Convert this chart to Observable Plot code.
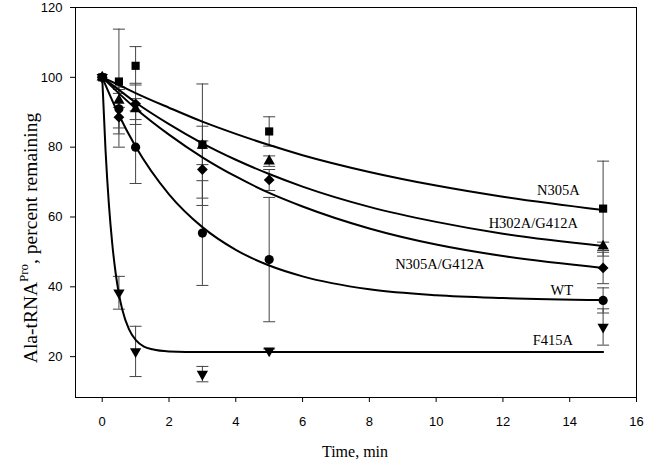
<!DOCTYPE html>
<html><head><meta charset="utf-8">
<script src="https://cdn.jsdelivr.net/npm/d3@7"></script>
<script src="https://cdn.jsdelivr.net/npm/@observablehq/plot@0.6"></script>
<style>body{margin:0;background:#fff} #chart{width:645px;height:465px}</style>
</head><body><div id="chart"></div>
<script>
// Measured points (time in min, percent remaining, error)
const times = [0, 0.5, 1, 3, 5, 15];
const seriesNames = ["N305A", "H302A/G412A", "N305A/G412A", "WT", "F415A"];
const n305aY   = [100, 98.8, 103.3, 80.7, 84.5, 62.4];
const n305aErr = [0, 15, 5.5, 17.4, 4.2, 13.6];
const h302aY   = [100, 93.4, 90.9, 80.5, 76.0, 51.6];
const h302aErr = [0, 2, 3, 5.5, 1.5, 1.2];
const n305gY   = [100, 88.6, 92.4, 73.6, 70.6, 45.4];
const n305gErr = [0, 8.6, 5.9, 8.2, 3.0, 4.5];
const wtY      = [100, 91.0, 80.0, 55.4, 47.8, 36.1];
const wtErr    = [0, 5.5, 10.4, 15.0, 17.8, 3.6];
const f415aY   = [100, 38.3, 21.5, 15.0, 21.7, 28.5];
const f415aErr = [0, 4.7, 7.2, 2.2, 0.5, 5.2];

// Fitted curves
const curveT = [0, 0.5, 1, 2, 3, 4, 5, 6, 8, 10, 12, 15];
const n305aFit = [100, 97.8, 95.5, 91.3, 87.3, 83.8, 80.6, 77.7, 72.9, 69.0, 65.8, 62.0];
const h302aFit = [100, 96.4, 92.8, 86.6, 81.1, 76.4, 72.3, 68.7, 62.9, 58.6, 55.2, 51.7];
const n305gFit = [100, 95.4, 91.1, 83.6, 77.1, 71.6, 66.9, 63.0, 56.7, 52.1, 48.8, 45.4];
const wtFit    = [100, 89.2, 80.2, 66.5, 57.1, 50.6, 46.1, 43.0, 39.3, 37.6, 36.8, 36.2];
const f415aT   = [0, 0.1, 0.2, 0.3, 0.4, 0.5, 0.6, 0.8, 1, 1.25, 1.5, 2, 3, 5, 10, 15];
const f415aFit = [100, 79.0, 63.6, 52.4, 44.1, 38.0, 33.5, 27.9, 24.8, 22.9, 22.1, 21.5, 21.3, 21.3, 21.3, 21.3];

// Curve labels (anchored at their right end)
const labelText = ["N305A", "H302A/G412A", "N305A/G412A", "WT", "F415A"];
const labelX = [14.3, 14.25, 11.45, 14.1, 14.1];
const labelY = [67.5, 58.1, 46.5, 39.1, 24.8];

const xTicks = [0, 2, 4, 6, 8, 10, 12, 14, 16];
const yTicks = [20, 40, 60, 80, 100, 120];

const pts = [
  {y: n305aY, e: n305aErr, symbol: "square", rotate: 0, r: 4.6},
  {y: h302aY, e: h302aErr, symbol: "triangle", rotate: 0, r: 4.2},
  {y: n305gY, e: n305gErr, symbol: "square", rotate: 45, r: 4.3},
  {y: wtY, e: wtErr, symbol: "circle", rotate: 0, r: 4.6},
  {y: f415aY, e: f415aErr, symbol: "triangle", rotate: 180, r: 4.2}
];
const fits = [
  {t: curveT, y: n305aFit}, {t: curveT, y: h302aFit}, {t: curveT, y: n305gFit},
  {t: curveT, y: wtFit}, {t: f415aT, y: f415aFit}
];

const errRows = [];
pts.forEach((s, i) => times.forEach((t, j) => {
  if (s.e[j] > 0) errRows.push({t, lo: s.y[j] - s.e[j], hi: s.y[j] + s.e[j], series: seriesNames[i]});
}));
const capRows = errRows.flatMap(d => [{t: d.t, v: d.lo}, {t: d.t, v: d.hi}]);
const capSymbol = {draw(ctx) { ctx.moveTo(-6, 0); ctx.lineTo(6, 0); }};

const marks = [
  Plot.frame({stroke: "black", strokeWidth: 1}),
  Plot.ruleX(errRows, {x: "t", y1: "lo", y2: "hi", stroke: "#444", strokeWidth: 1}),
  Plot.dot(capRows, {x: "t", y: "v", symbol: capSymbol, stroke: "#444", strokeWidth: 1, fill: "none"}),
  ...fits.map(f => Plot.line(f.t.map((t, k) => ({t, v: f.y[k]})), {x: "t", y: "v", curve: "monotone-x", stroke: "black", strokeWidth: 2})),
  ...pts.map(s => Plot.dot(times.map((t, k) => ({t, v: s.y[k]})), {x: "t", y: "v", symbol: s.symbol, rotate: s.rotate, r: s.r, fill: "black", stroke: "none"})),
  Plot.text(labelText.map((l, k) => ({l, x: labelX[k], y: labelY[k]})), {x: "x", y: "y", text: "l", textAnchor: "end", fontFamily: "Liberation Serif, Times New Roman, serif", fontSize: 14.5, fill: "black"}),
  Plot.axisX({ticks: xTicks, tickSize: 5, tickPadding: 14, label: null, fontSize: 13, fontFamily: "Liberation Sans, Arial, sans-serif"}),
  Plot.axisY({ticks: yTicks, tickSize: 5, tickPadding: 8, label: null, fontSize: 13, fontFamily: "Liberation Sans, Arial, sans-serif"})
];

const chart = Plot.plot({
  width: 645, height: 465,
  marginLeft: 75, marginRight: 9, marginTop: 7, marginBottom: 68,
  style: {background: "white", color: "black", overflow: "visible"},
  x: {domain: [-0.8, 16]},
  y: {domain: [8.3, 120]},
  marks
});
document.getElementById("chart").appendChild(chart);

const svg = d3.select(chart);
const serif = "Liberation Serif, Times New Roman, serif";
svg.append("text")
  .attr("x", 355).attr("y", 457)
  .attr("text-anchor", "middle")
  .attr("font-family", serif).attr("font-size", 16).attr("fill", "black")
  .text("Time, min");
const yt = svg.append("text")
  .attr("transform", "translate(37,238) rotate(-90)")
  .attr("text-anchor", "middle")
  .attr("font-family", serif).attr("font-size", 19.5).attr("fill", "black");
yt.append("tspan").text("Ala-tRNA");
yt.append("tspan").attr("dy", -9).attr("font-size", 13).text("Pro");
yt.append("tspan").attr("dy", 9).text(", percent remaining");
</script>
</body></html>
